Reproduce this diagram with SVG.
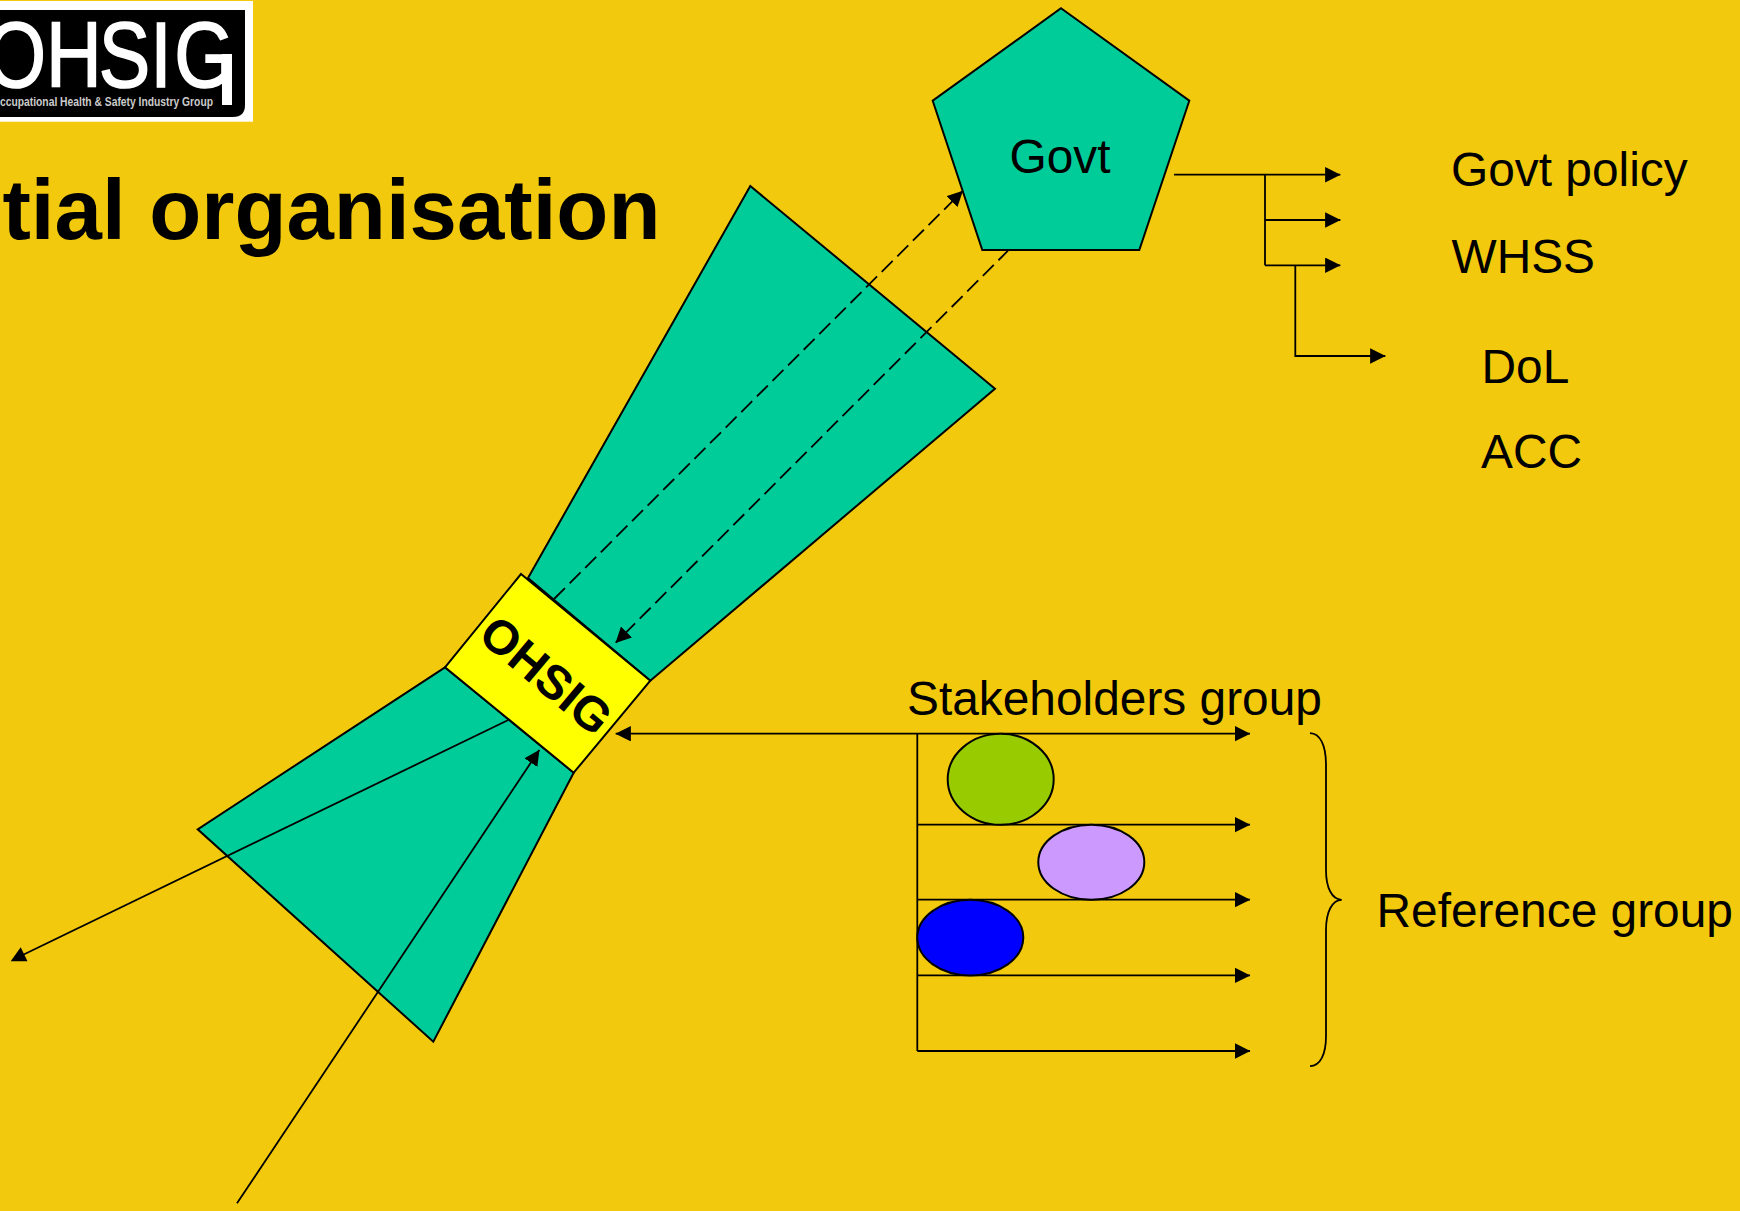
<svg xmlns="http://www.w3.org/2000/svg" width="1740" height="1211" viewBox="0 0 1740 1211">
<style>
.shape{stroke:#000;stroke-width:2;stroke-linejoin:miter}
.funnel{fill:#00CC99}
.line{fill:none;stroke:#000;stroke-width:1.8}
.dash{stroke-dasharray:15.5 6.55}
.arrow{marker-end:url(#head)}
text{font-family:"Liberation Sans",Arial,sans-serif;fill:#000}
.label{font-size:47.85px}
</style>
<defs>
<marker id="head" markerUnits="userSpaceOnUse" markerWidth="16" markerHeight="16" refX="15.2" refY="7.75" orient="auto-start-reverse">
<path d="M0 0L15.5 7.75L0 15.5z" fill="#000"/>
</marker>
</defs>
<rect width="1740" height="1211" fill="#F3C90E"/>
<g id="logo">
<rect x="0" y="1" width="253" height="120.7" fill="#fff"/>
<path d="M0 10H245V105Q245 117 233 117H0z" fill="#000"/>
<text transform="translate(0,87.3) scale(.83,1)" x="-17 55.4 119 181 210" y="0" font-size="93" style="fill:#fff;stroke:#fff;stroke-width:1.6">OHSIG</text>
<rect x="222" y="54" width="10" height="51" fill="#fff"/>
<text x="0" y="106" font-size="13" font-weight="bold" textLength="213" lengthAdjust="spacingAndGlyphs" style="fill:#ccc">ccupational Health &amp; Safety Industry Group</text>
</g>
<g id="title"><text x="2.5" y="238.7" font-size="85.2" font-weight="bold">tial organisation</text></g>
<g id="funnel-top"><polygon class="shape funnel" points="750.3,186 995,388.7 650.3,680.7 528,578"/></g>
<g id="funnel-bottom"><polygon class="shape funnel" points="445,667.3 197.7,829.3 433.3,1041.7 573.7,772.7"/></g>
<g id="connectors">
<line class="line dash arrow" x1="554" y1="599" x2="962.7" y2="191"/>
<line class="line dash arrow" x1="1008" y1="250.7" x2="615.7" y2="642.7" style="stroke-dashoffset:2"/>
<line class="line" x1="508.3" y1="720" x2="22.7" y2="955"/>
<polygon points="10.7,961.3 27.5,961.3 20.7,947.3" fill="#000"/>
<line class="line arrow" x1="237" y1="1203.3" x2="539.3" y2="750"/>
<line class="line arrow" x1="1174" y1="174.7" x2="1340.3" y2="174.7"/>
<line class="line arrow" x1="1265" y1="220" x2="1340.3" y2="220"/>
<line class="line arrow" x1="1265" y1="265.3" x2="1340.3" y2="265.3"/>
<line class="line" x1="1265" y1="174.7" x2="1265" y2="265.3"/>
<path class="line arrow" d="M1295.3 265.3V356H1385.3"/>
<line class="line arrow" x1="615.7" y1="733.7" x2="1250" y2="733.7" style="marker-start:url(#head)"/>
<line class="line" x1="917.3" y1="733.7" x2="917.3" y2="1051"/>
<line class="line arrow" x1="917.3" y1="824.7" x2="1250" y2="824.7"/>
<line class="line arrow" x1="917.3" y1="899.7" x2="1250" y2="899.7"/>
<line class="line arrow" x1="917.3" y1="975.4" x2="1250" y2="975.4"/>
<line class="line arrow" x1="917.3" y1="1051" x2="1250" y2="1051"/>
</g>
<g id="govt">
<polygon class="shape funnel" points="1061,8.3 1189.3,100.7 1139.3,250 982.3,250 932.7,100.7"/>
<text class="label" x="1009.5" y="173">Govt</text>
</g>
<g id="ohsig">
<polygon class="shape" fill="#FFFF00" points="521,574 650.3,680.7 573.7,772.7 445,667.3"/>
<text transform="translate(546.5,675) rotate(40)" text-anchor="middle" y="17" font-size="48" font-weight="bold">OHSIG</text>
</g>
<g id="stakeholder-1"><ellipse class="shape" fill="#99CC00" cx="1000.7" cy="779.3" rx="53" ry="45.5"/></g>
<g id="stakeholder-2"><ellipse class="shape" fill="#CC99FF" cx="1091.3" cy="862.2" rx="53" ry="37.5"/></g>
<g id="stakeholder-3"><ellipse class="shape" fill="#0000FF" cx="970.3" cy="937.6" rx="53" ry="37.8"/></g>
<g id="brace"><path class="line" d="M1310 733.2C1320 733.5 1326 745 1326 765V870C1326 888 1332 899.5 1341.7 899.8C1332 900 1326 912 1326 930V1036C1326 1055 1320 1066 1310 1066.2"/></g>
<g id="label-govt-policy"><text class="label" x="1451" y="185.7">Govt policy</text></g>
<g id="label-whss"><text class="label" x="1451.5" y="272.7">WHSS</text></g>
<g id="label-dol"><text class="label" x="1481.5" y="382.7">DoL</text></g>
<g id="label-acc"><text class="label" x="1481" y="468.3">ACC</text></g>
<g id="label-stakeholders"><text class="label" x="907" y="715">Stakeholders group</text></g>
<g id="label-reference"><text class="label" x="1376.5" y="926.7">Reference group</text></g>
</svg>
